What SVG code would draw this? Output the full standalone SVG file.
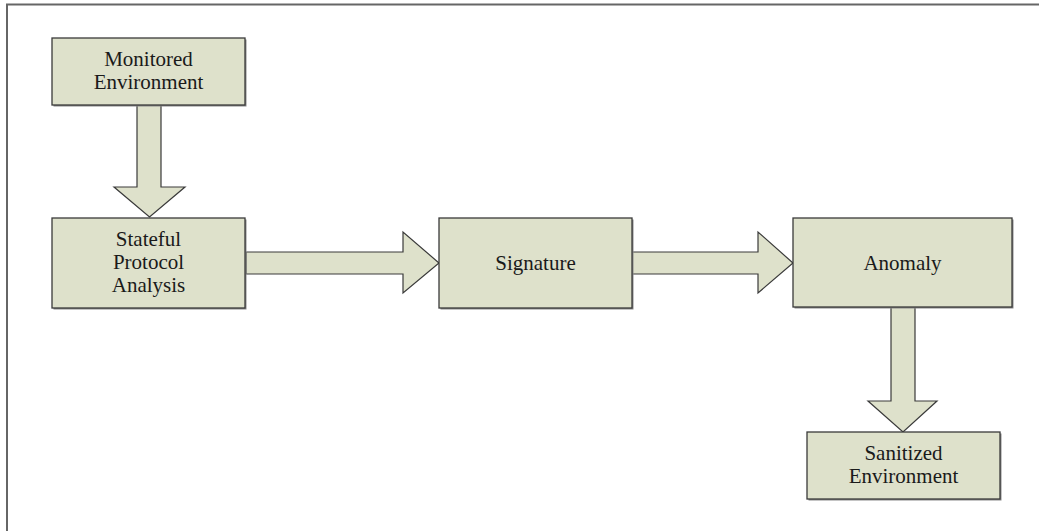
<svg xmlns="http://www.w3.org/2000/svg" width="1039" height="531" viewBox="0 0 1039 531">
<style>
.box{fill:#dee1cb;stroke:#3a3a3a;stroke-width:1.3}
.shadow{fill:#8a8a8a}
.arrow{fill:#dee1cb;stroke:#3a3a3a;stroke-width:1.2;stroke-linejoin:miter}
.t{font-family:"Liberation Serif","Times New Roman",serif;font-size:21px;fill:#1a1a1a;text-anchor:middle}
.frame{stroke:#666;stroke-width:2;fill:none}
</style>
<rect width="1039" height="531" fill="#ffffff"/>
<path class="frame" d="M7,531 V4.5 H1039"/>
<g id="connectors">
<polygon class="arrow" points="137,105 161,105 161,187 185,187 149.5,217 114,187 137,187"/>
<polygon class="arrow" points="246,252 403,252 403,232 439,263 403,293 403,274 246,274"/>
<polygon class="arrow" points="632,252 758,252 758,232 793,263 758,293 758,274 632,274"/>
<polygon class="arrow" points="891,307 915,307 915,401 937,401 903,432 868,401 891,401"/>
</g>
<g id="monitored">
<rect class="shadow" x="53.5" y="39.5" width="193" height="67"/>
<rect class="box" x="52" y="38" width="193" height="67"/>
<text class="t" x="148.5" y="66">Monitored</text>
<text class="t" x="148.5" y="89">Environment</text>
</g>
<g id="stateful">
<rect class="shadow" x="53.5" y="219.5" width="193" height="90"/>
<rect class="box" x="52" y="218" width="193" height="90"/>
<text class="t" x="148.5" y="246">Stateful</text>
<text class="t" x="148.5" y="269">Protocol</text>
<text class="t" x="148.5" y="292">Analysis</text>
</g>
<g id="signature">
<rect class="shadow" x="440.5" y="219.5" width="193" height="90"/>
<rect class="box" x="439" y="218" width="193" height="90"/>
<text class="t" x="535.5" y="270">Signature</text>
</g>
<g id="anomaly">
<rect class="shadow" x="794.5" y="219.5" width="219" height="89"/>
<rect class="box" x="793" y="218" width="219" height="89"/>
<text class="t" x="902.5" y="270">Anomaly</text>
</g>
<g id="sanitized">
<rect class="shadow" x="808.5" y="433.5" width="193" height="67"/>
<rect class="box" x="807" y="432" width="193" height="67"/>
<text class="t" x="903.5" y="460">Sanitized</text>
<text class="t" x="903.5" y="483">Environment</text>
</g>
</svg>
